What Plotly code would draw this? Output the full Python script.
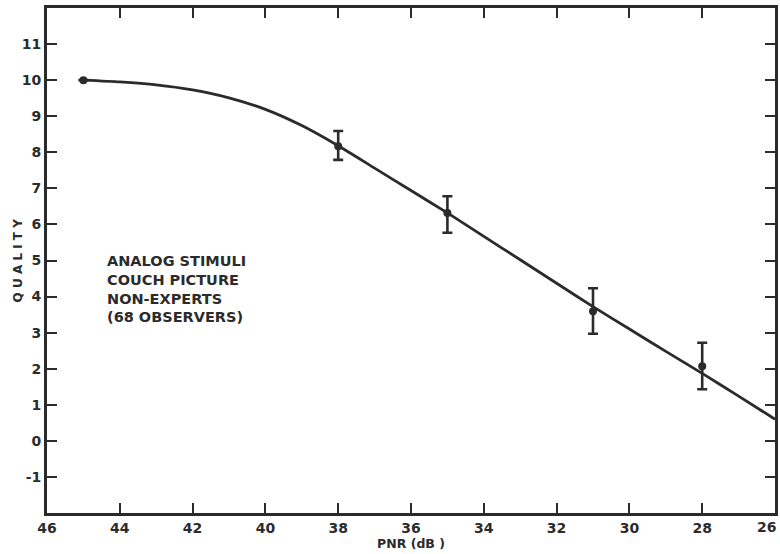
import plotly.graph_objects as go

# Measured points with error bars
pnr_pts = [45, 38, 35, 31, 28]
quality_pts = [10.0, 8.17, 6.32, 3.59, 2.07]
err_plus = [0.0, 0.42, 0.46, 0.64, 0.65]
err_minus = [0.0, 0.38, 0.55, 0.62, 0.64]

# Fitted smooth curve
curve_x = [45, 44, 43, 42, 41, 40, 39, 38, 37, 36, 35, 34, 33, 32, 31, 30, 29, 28, 27, 26]
curve_y = [10.0, 9.95, 9.87, 9.73, 9.51, 9.19, 8.74, 8.18, 7.56, 6.94, 6.32,
           5.67, 5.02, 4.37, 3.72, 3.1, 2.48, 1.87, 1.24, 0.6]

x_ticks = [46, 44, 42, 40, 38, 36, 34, 32, 30, 28, 26]
x_ticktext = ["46", "44", "42", "40", "38", "36", "34", "32", "30", "28", ""]
last_x_label = "26"
y_ticks = [-1, 0, 1, 2, 3, 4, 5, 6, 7, 8, 9, 10, 11]

note_lines = ["ANALOG STIMULI", "COUCH PICTURE", "NON-EXPERTS", "(68 OBSERVERS)"]

ink = "#2b2b2b"
font_family = "DejaVu Sans"
tick_font = dict(family=font_family, size=14, color=ink, weight="bold")

fig = go.Figure()
fig.add_trace(go.Scatter(
    x=curve_x, y=curve_y, mode="lines",
    line=dict(color=ink, width=2.8, shape="spline", smoothing=0.6),
    hoverinfo="skip", showlegend=False))
fig.add_trace(go.Scatter(
    x=pnr_pts, y=quality_pts, mode="markers",
    marker=dict(color=ink, size=8),
    error_y=dict(type="data", symmetric=False, array=err_plus, arrayminus=err_minus,
                 color=ink, thickness=2.6, width=5),
    showlegend=False))

for i, t in enumerate(note_lines):
    fig.add_annotation(x=44.4, y=4.98 - i * 0.52, xref="x", yref="y", text=t,
                       showarrow=False, xanchor="left", yanchor="middle",
                       font=dict(family=font_family, size=14.5, color=ink, weight="bold"))

# last x tick label, kept inside the page edge
fig.add_annotation(x=x_ticks[-1], y=0, xref="x", yref="paper", text=last_x_label,
                   showarrow=False, xanchor="right", yanchor="top", xshift=3, yshift=-4,
                   font=tick_font)

fig.add_annotation(x=-0.04, y=0.5, xref="paper", yref="paper", text="Q U A L I T Y",
                   textangle=-90, showarrow=False, xanchor="center", yanchor="middle",
                   font=dict(family=font_family, size=12, color=ink, weight="bold"))

axis_common = dict(showgrid=False, zeroline=False, showline=True, linecolor=ink,
                   linewidth=3, ticks="inside", tickcolor=ink, tickwidth=2,
                   ticklen=10, mirror="ticks", ticklabeloverflow="allow", automargin=False,
                   tickfont=tick_font)

fig.update_xaxes(range=[46, 26], tickvals=x_ticks, ticktext=x_ticktext,
                 title=dict(text="PNR (dB )", standoff=0,
                            font=dict(family=font_family, size=12.5, color=ink, weight="bold")),
                 **axis_common)
fig.update_yaxes(range=[-2, 12], tickvals=y_ticks, ticktext=[str(v) for v in y_ticks],
                 **axis_common)

fig.update_layout(width=780, height=554, margin=dict(l=47, r=5, t=8, b=41),
                  plot_bgcolor="white", paper_bgcolor="white")

fig.write_html("out.html")
